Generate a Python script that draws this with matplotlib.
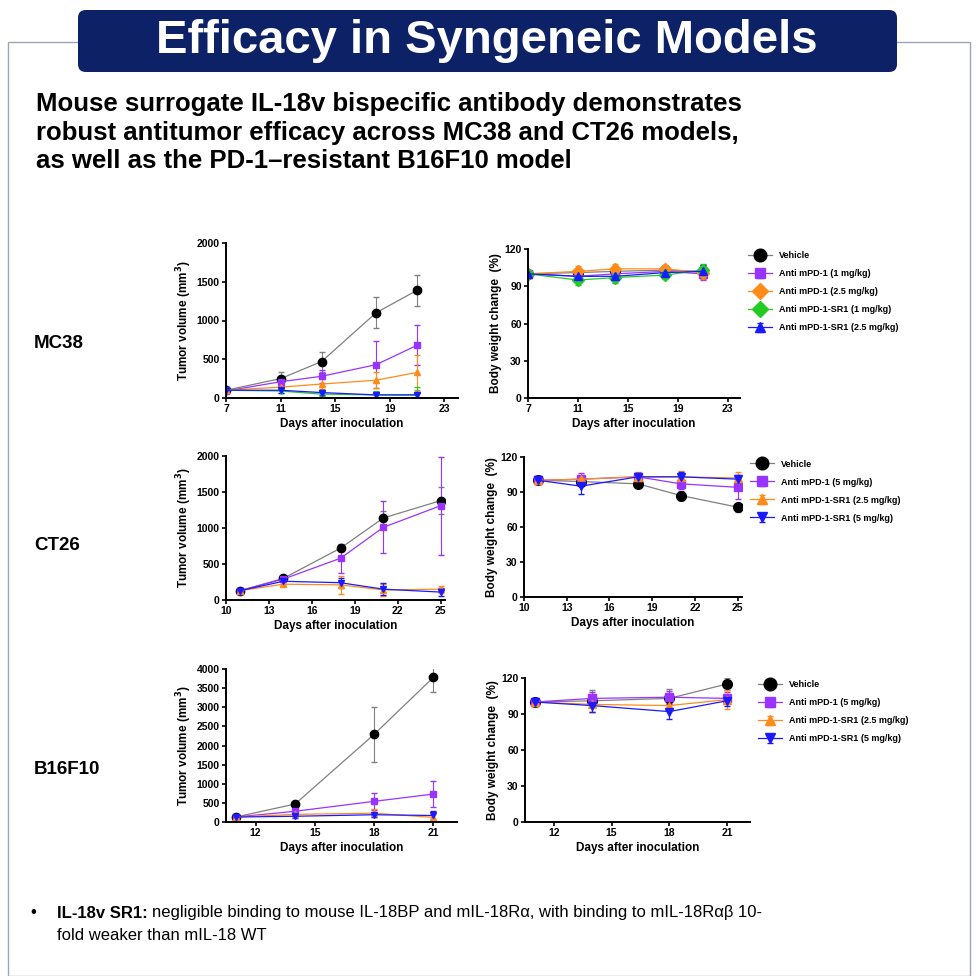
import matplotlib.pyplot as plt
from matplotlib.patches import FancyBboxPatch, Rectangle

plt.rcParams['font.family'] = ['Liberation Sans', 'DejaVu Sans']

# ---- data ----
mc38_days = [7, 11, 14, 18, 21]
mc38_tv_vehicle = [100, 250, 470, 1100, 1390]
mc38_tv_vehicle_err = [10, 90, 130, 200, 200]
mc38_tv_pd1_1 = [90, 210, 280, 430, 680]
mc38_tv_pd1_1_err = [10, 50, 80, 300, 260]
mc38_tv_pd1_25 = [100, 140, 180, 230, 330]
mc38_tv_pd1_25_err = [10, 40, 60, 100, 230]
mc38_tv_sr1_1 = [100, 90, 50, 40, 40]
mc38_tv_sr1_1_err = [10, 30, 30, 50, 100]
mc38_tv_sr1_25 = [100, 100, 70, 40, 40]
mc38_tv_sr1_25_err = [10, 30, 30, 30, 40]
mc38_bw_vehicle = [100, 101, 102, 103, 102]
mc38_bw_pd1_1 = [100, 98, 100, 102, 100]
mc38_bw_pd1_25 = [100, 102, 104, 104, 101]
mc38_bw_sr1_1 = [100, 95, 97, 99, 103]
mc38_bw_sr1_25 = [100, 98, 98, 101, 102]
mc38_bw_err = [1, 4, 4, 3, 5]

ct26_days = [11, 14, 18, 21, 25]
ct26_tv_vehicle = [130, 300, 720, 1140, 1380]
ct26_tv_vehicle_err = [20, 30, 40, 100, 190]
ct26_tv_pd1 = [130, 290, 580, 1010, 1310]
ct26_tv_pd1_err = [20, 30, 200, 360, 680]
ct26_tv_sr1_25 = [130, 220, 210, 140, 150]
ct26_tv_sr1_25_err = [20, 30, 130, 80, 50]
ct26_tv_sr1_5 = [130, 260, 240, 150, 110]
ct26_tv_sr1_5_err = [20, 40, 70, 80, 60]
ct26_bw_vehicle = [100, 99, 97, 87, 77]
ct26_bw_vehicle_err = [2, 3, 2, 4, 4]
ct26_bw_pd1 = [100, 101, 103, 97, 94]
ct26_bw_pd1_err = [2, 5, 3, 4, 10]
ct26_bw_sr1_25 = [100, 101, 103, 103, 102]
ct26_bw_sr1_25_err = [2, 4, 4, 5, 5]
ct26_bw_sr1_5 = [100, 95, 103, 103, 101]
ct26_bw_sr1_5_err = [2, 7, 3, 4, 4]

b16_days = [11, 14, 18, 21]
b16_tv_vehicle = [130, 470, 2290, 3780]
b16_tv_vehicle_err = [20, 50, 720, 380]
b16_tv_pd1 = [130, 280, 540, 730]
b16_tv_pd1_err = [20, 60, 220, 350]
b16_tv_sr1_25 = [130, 200, 230, 120]
b16_tv_sr1_25_err = [20, 40, 100, 100]
b16_tv_sr1_5 = [130, 150, 190, 170]
b16_tv_sr1_5_err = [20, 40, 50, 120]
b16_bw_vehicle = [100, 101, 103, 115]
b16_bw_vehicle_err = [2, 9, 8, 5]
b16_bw_pd1 = [100, 103, 104, 103]
b16_bw_pd1_err = [2, 5, 5, 5]
b16_bw_sr1_25 = [100, 98, 97, 102]
b16_bw_sr1_25_err = [2, 6, 5, 8]
b16_bw_sr1_5 = [100, 97, 92, 101]
b16_bw_sr1_5_err = [2, 5, 6, 4]

BLACK, PURPLE, ORANGE, GREEN, BLUE = 'black', '#9933ff', '#ff8c1a', '#22cc22', '#1a1aff'
W, H = 978, 976

fig = plt.figure(figsize=(9.78, 9.76), dpi=100)
fig.patch.set_facecolor('white')


def ax_at(x0, y0, x1, y1):
    # pixel box (top-left origin) -> axes
    return fig.add_axes([x0 / W, 1 - y1 / H, (x1 - x0) / W, (y1 - y0) / H])


def style(ax, xlabel, ylabel):
    for s in ['top', 'right']:
        ax.spines[s].set_visible(False)
    for s in ['left', 'bottom']:
        ax.spines[s].set_linewidth(1.4)
    ax.tick_params(labelsize=7.5, width=1.2, length=3, pad=1.5)
    for t in ax.get_xticklabels() + ax.get_yticklabels():
        t.set_fontweight('bold')
    ax.set_xlabel(xlabel, fontsize=8.5, fontweight='bold', labelpad=3)
    ax.set_ylabel(ylabel, fontsize=8.5, fontweight='bold', labelpad=2)


def series(ax, x, y, err, color, marker, lc=None, label=None, ms=6):
    ax.errorbar(x, y, yerr=err, color=lc or color, lw=0.9, elinewidth=0.8, capsize=2,
                marker=marker, ms=ms, mfc=color, mec=color, label=label)


def legend(ax):
    ax.legend(loc='upper left', bbox_to_anchor=(1.0, 1.04), frameon=False,
              handlelength=2.6, labelspacing=1.0, markerscale=1.3,
              prop={'weight': 'bold', 'size': 6.5})


# frame
fig.add_artist(Rectangle((8 / W, 0), 962 / W, 1 - 42 / H, transform=fig.transFigure,
                         fill=False, ec='#9aa7b8', lw=1))
fig.add_artist(FancyBboxPatch((78 / W, 1 - 72 / H), 819 / W, 62 / H, transform=fig.transFigure,
                              boxstyle='round,pad=0,rounding_size=0.008', fc='#0d2266', ec='none'))
fig.text(487 / W, 1 - 41 / H, 'Efficacy in Syngeneic Models', color='white', fontsize=34,
         fontweight='bold', ha='center', va='center')
fig.text(36 / W, 1 - 92 / H,
         'Mouse surrogate IL-18v bispecific antibody demonstrates\n'
         'robust antitumor efficacy across MC38 and CT26 models,\n'
         'as well as the PD-1\u2013resistant B16F10 model',
         fontsize=18.5, fontweight='bold', ha='left', va='top', linespacing=1.25)
for lab, y in [('MC38', 343), ('CT26', 546), ('B16F10', 769)]:
    fig.text(34 / W, 1 - y / H, lab, fontsize=13.5, fontweight='bold', va='center')

tv_label = 'Tumor volume (mm$^\\mathbf{3}$)'
bw_label = 'Body weight change  (%)'
days_label = 'Days after inoculation'

# MC38
ax = ax_at(226, 243, 458, 398)
series(ax, mc38_days, mc38_tv_vehicle, mc38_tv_vehicle_err, BLACK, 'o', lc='gray')
series(ax, mc38_days, mc38_tv_pd1_1, mc38_tv_pd1_1_err, PURPLE, 's', ms=5)
series(ax, mc38_days, mc38_tv_pd1_25, mc38_tv_pd1_25_err, ORANGE, '^', ms=5)
series(ax, mc38_days, mc38_tv_sr1_1, mc38_tv_sr1_1_err, GREEN, 'v', ms=5)
series(ax, mc38_days, mc38_tv_sr1_25, mc38_tv_sr1_25_err, BLUE, 'v', ms=5)
ax.set_xlim(7, 24); ax.set_ylim(0, 2000)
ax.set_xticks([7, 11, 15, 19, 23]); ax.set_yticks([0, 500, 1000, 1500, 2000])
style(ax, days_label, tv_label)

ax = ax_at(528, 249, 740, 398)
series(ax, mc38_days, mc38_bw_vehicle, mc38_bw_err, BLACK, 'o', lc='gray', label='Vehicle', ms=7)
series(ax, mc38_days, mc38_bw_pd1_1, mc38_bw_err, PURPLE, 's', label='Anti mPD-1 (1 mg/kg)')
series(ax, mc38_days, mc38_bw_pd1_25, mc38_bw_err, ORANGE, 'D', label='Anti mPD-1 (2.5 mg/kg)')
series(ax, mc38_days, mc38_bw_sr1_1, mc38_bw_err, GREEN, 'D', label='Anti mPD-1-SR1 (1 mg/kg)')
series(ax, mc38_days, mc38_bw_sr1_25, mc38_bw_err, BLUE, '^', label='Anti mPD-1-SR1 (2.5 mg/kg)')
ax.set_xlim(7, 24); ax.set_ylim(0, 120)
ax.set_xticks([7, 11, 15, 19, 23]); ax.set_yticks([0, 30, 60, 90, 120])
style(ax, days_label, bw_label)
legend(ax)

# CT26
ax = ax_at(226, 456, 445, 600)
series(ax, ct26_days, ct26_tv_vehicle, ct26_tv_vehicle_err, BLACK, 'o', lc='gray')
series(ax, ct26_days, ct26_tv_pd1, ct26_tv_pd1_err, PURPLE, 's', ms=5)
series(ax, ct26_days, ct26_tv_sr1_25, ct26_tv_sr1_25_err, ORANGE, '^', ms=5)
series(ax, ct26_days, ct26_tv_sr1_5, ct26_tv_sr1_5_err, BLUE, 'v', ms=5)
ax.set_xlim(10, 25.3); ax.set_ylim(0, 2000)
ax.set_xticks([10, 13, 16, 19, 22, 25]); ax.set_yticks([0, 500, 1000, 1500, 2000])
style(ax, days_label, tv_label)

ax = ax_at(524, 457, 742, 597)
series(ax, ct26_days, ct26_bw_vehicle, ct26_bw_vehicle_err, BLACK, 'o', lc='gray', label='Vehicle', ms=7)
series(ax, ct26_days, ct26_bw_pd1, ct26_bw_pd1_err, PURPLE, 's', label='Anti mPD-1 (5 mg/kg)')
series(ax, ct26_days, ct26_bw_sr1_25, ct26_bw_sr1_25_err, ORANGE, '^', label='Anti mPD-1-SR1 (2.5 mg/kg)')
series(ax, ct26_days, ct26_bw_sr1_5, ct26_bw_sr1_5_err, BLUE, 'v', label='Anti mPD-1-SR1 (5 mg/kg)')
ax.set_xlim(10, 25.3); ax.set_ylim(0, 120)
ax.set_xticks([10, 13, 16, 19, 22, 25]); ax.set_yticks([0, 30, 60, 90, 120])
style(ax, days_label, bw_label)
legend(ax)

# B16F10
ax = ax_at(226, 669, 457, 822)
series(ax, b16_days, b16_tv_vehicle, b16_tv_vehicle_err, BLACK, 'o', lc='gray')
series(ax, b16_days, b16_tv_pd1, b16_tv_pd1_err, PURPLE, 's', ms=5)
series(ax, b16_days, b16_tv_sr1_25, b16_tv_sr1_25_err, ORANGE, '^', ms=5)
series(ax, b16_days, b16_tv_sr1_5, b16_tv_sr1_5_err, BLUE, 'v', ms=5)
ax.set_xlim(10.5, 22.2); ax.set_ylim(0, 4000)
ax.set_xticks([12, 15, 18, 21]); ax.set_yticks(range(0, 4001, 500))
style(ax, days_label, tv_label)

ax = ax_at(525, 678, 750, 822)
series(ax, b16_days, b16_bw_vehicle, b16_bw_vehicle_err, BLACK, 'o', lc='gray', label='Vehicle', ms=7)
series(ax, b16_days, b16_bw_pd1, b16_bw_pd1_err, PURPLE, 's', label='Anti mPD-1 (5 mg/kg)')
series(ax, b16_days, b16_bw_sr1_25, b16_bw_sr1_25_err, ORANGE, '^', label='Anti mPD-1-SR1 (2.5 mg/kg)')
series(ax, b16_days, b16_bw_sr1_5, b16_bw_sr1_5_err, BLUE, 'v', label='Anti mPD-1-SR1 (5 mg/kg)')
ax.set_xlim(10.5, 22.2); ax.set_ylim(0, 120)
ax.set_xticks([12, 15, 18, 21]); ax.set_yticks([0, 30, 60, 90, 120])
style(ax, days_label, bw_label)
legend(ax)

# footnote
fig.text(30 / W, 1 - 913 / H, '\u2022', fontsize=12, va='center')
bold = fig.text(57 / W, 1 - 913 / H, 'IL-18v SR1:', fontsize=12, fontweight='bold', va='center')
r = fig.canvas.get_renderer()
bx = bold.get_window_extent(r).x1 / W
fig.text(bx + 4 / W, 1 - 913 / H,
         'negligible binding to mouse IL-18BP and mIL-18R\u03b1, with binding to mIL-18R\u03b1\u03b2 10-',
         fontsize=12, va='center')
fig.text(57 / W, 1 - 935 / H, 'fold weaker than mIL-18 WT', fontsize=12, va='center')

fig.savefig('out.png', dpi=100)
